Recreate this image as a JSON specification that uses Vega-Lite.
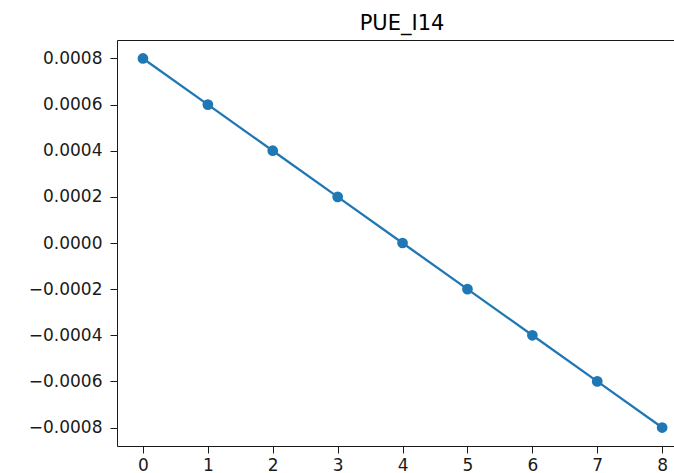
{
  "$schema": "https://vega.github.io/schema/vega-lite/v6.json",
  "autosize": {"type": "none"},
  "padding": {"left": 117, "top": 40, "right": 0, "bottom": 27},
  "width": 558,
  "height": 406,
  "background": "white",
  "title": {
    "text": "PUE_I14",
    "font": "DejaVu Sans",
    "fontSize": 21,
    "fontWeight": "normal",
    "color": "#000000",
    "anchor": "middle",
    "baseline": "alphabetic",
    "offset": -10.5,
    "dx": 6
  },
  "config": {
    "view": {"stroke": "#1a1a1a", "strokeWidth": 1},
    "axis": {
      "grid": false,
      "domain": false,
      "tickColor": "#1a1a1a",
      "tickSize": 7,
      "tickWidth": 1,
      "labelFont": "DejaVu Sans",
      "labelFontSize": 17,
      "labelColor": "#1a1a1a",
      "title": null
    }
  },
  "data": {
    "values": [
      {"x": 0, "y": 0.0008},
      {"x": 1, "y": 0.0006},
      {"x": 2, "y": 0.0004},
      {"x": 3, "y": 0.0002},
      {"x": 4, "y": 0.0},
      {"x": 5, "y": -0.0002},
      {"x": 6, "y": -0.0004},
      {"x": 7, "y": -0.0006},
      {"x": 8, "y": -0.0008}
    ]
  },
  "encoding": {
    "x": {
      "field": "x",
      "type": "quantitative",
      "scale": {"domain": [-0.4, 8.198], "nice": false, "zero": false},
      "axis": {"values": [0, 1, 2, 3, 4, 5, 6, 7, 8], "format": "d", "labelPadding": 4}
    },
    "y": {
      "field": "y",
      "type": "quantitative",
      "scale": {"domain": [-0.00088, 0.00088], "nice": false, "zero": false},
      "axis": {
        "values": [-0.0008, -0.0006, -0.0004, -0.0002, 0, 0.0002, 0.0004, 0.0006, 0.0008],
        "format": ".4f",
        "labelPadding": 8
      }
    }
  },
  "layer": [
    {"mark": {"type": "line", "color": "#1f77b4", "strokeWidth": 2.3}},
    {"mark": {"type": "point", "filled": true, "color": "#1f77b4", "opacity": 1, "size": 115}}
  ]
}
